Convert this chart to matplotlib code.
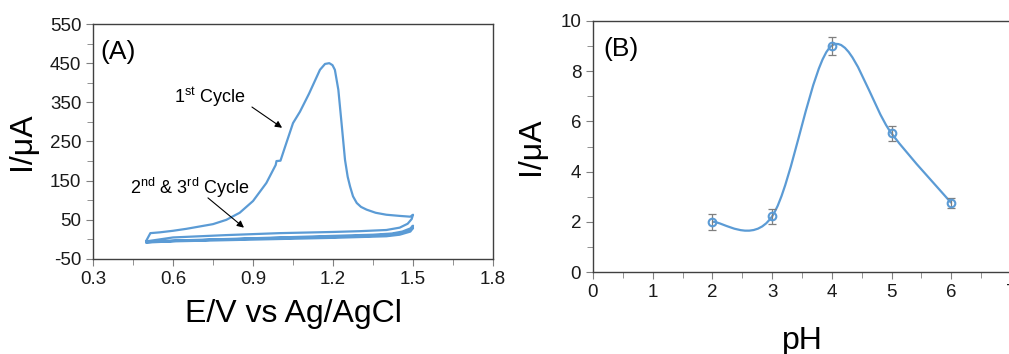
import numpy as np
import matplotlib
matplotlib.use("Agg")
import matplotlib.pyplot as plt
from matplotlib.path import Path
from matplotlib.patches import PathPatch
from matplotlib.ticker import MultipleLocator

plt.rcParams['font.family'] = ['Liberation Sans', 'DejaVu Sans']
plt.rcParams['mathtext.fontset'] = 'custom'
plt.rcParams['mathtext.rm'] = 'Liberation Sans'
plt.rcParams['axes.unicode_minus'] = False

BLUE = '#5b9bd5'

# ---- panel A: cyclic voltammograms (E in V, I in uA) ----
fwd1_E = [0.500, 0.515, 0.55, 0.60, 0.65, 0.70, 0.75, 0.80, 0.85, 0.90, 0.95, 0.985,
          0.988, 1.003, 1.02, 1.05, 1.076, 1.11, 1.151, 1.17, 1.186, 1.198, 1.207,
          1.22, 1.232, 1.245, 1.255, 1.264, 1.275, 1.289, 1.305, 1.326, 1.36, 1.40,
          1.45, 1.49, 1.50]
fwd1_I = [-3, 16, 18, 22, 27, 33, 39, 50, 68, 98, 144, 190,
          200, 201, 236, 297, 326, 372, 433, 448, 450, 445, 433,
          382, 297, 203, 160, 135, 110, 93, 83, 76, 68, 63,
          60, 58, 63]
rev1_E = [1.50, 1.495, 1.48, 1.45, 1.40, 1.30, 1.20, 1.00, 0.80, 0.60, 0.50]
rev1_I = [63, 52, 40, 30, 24, 21, 19, 16, 11, 5, -5]
fwd2_E = [0.50, 0.60, 0.80, 1.00, 1.20, 1.35, 1.42, 1.46, 1.49, 1.50]
fwd2_I = [-5, -3, 1, 5, 9, 12, 15, 20, 28, 35]
rev2_E = [1.50, 1.49, 1.46, 1.40, 1.20, 1.00, 0.80, 0.60, 0.50]
rev2_I = [35, 25, 16, 10, 6, 3, 0, -4, -7]
fwd3_E = [0.50, 0.60, 0.80, 1.00, 1.20, 1.35, 1.42, 1.46, 1.49, 1.50]
fwd3_I = [-7, -4, 0, 4, 7, 10, 13, 17, 24, 29]
rev3_E = [1.50, 1.49, 1.45, 1.40, 1.20, 1.00, 0.80, 0.60, 0.50]
rev3_I = [29, 20, 12, 8, 4, 1, -2, -5, -8]

# ---- panel B: effect of pH ----
ph = [2, 3, 4, 5, 6]
ph_current = [2.0, 2.22, 9.02, 5.52, 2.75]
ph_err = [0.33, 0.29, 0.36, 0.30, 0.20]


def style_axes(ax):
    for s in ax.spines.values():
        s.set_color('#404040')
        s.set_linewidth(1.0)
    ax.tick_params(which='both', direction='out', color='#808080', labelcolor='#1a1a1a',
                   labelsize=13.5, top=False, right=False)
    ax.tick_params(which='major', length=5)
    ax.tick_params(which='minor', length=4)


def smooth_path(xs, ys):
    # Excel-style smoothed line: cubic Bezier through every point
    pts = np.column_stack([xs, ys]).astype(float)
    n = len(pts)
    verts = [pts[0]]
    codes = [Path.MOVETO]
    for i in range(n - 1):
        p0 = pts[i - 1] if i > 0 else pts[i]
        p1 = pts[i]
        p2 = pts[i + 1]
        p3 = pts[i + 2] if i + 2 < n else pts[i + 1]
        verts += [p1 + (p2 - p0) / 6, p2 - (p3 - p1) / 6, p2]
        codes += [Path.CURVE4] * 3
    return Path(verts, codes)


fig = plt.figure(figsize=(10.09, 3.54), dpi=100)

# panel A
axA = fig.add_axes([0.0922, 0.2684, 0.3964, 0.6638])
cv_E = fwd1_E + rev1_E + fwd2_E + rev2_E + fwd3_E + rev3_E
cv_I = fwd1_I + rev1_I + fwd2_I + rev2_I + fwd3_I + rev3_I
axA.plot(cv_E, cv_I, color=BLUE, lw=1.6, solid_joinstyle='round')
axA.set_xlim(0.3, 1.8)
axA.set_ylim(-50, 550)
axA.xaxis.set_minor_locator(MultipleLocator(0.15))
axA.yaxis.set_minor_locator(MultipleLocator(50))
axA.set_yticks(np.arange(-50, 551, 100))
axA.set_xticks([0.3, 0.6, 0.9, 1.2, 1.5, 1.8])
axA.set_xticklabels(['0.3', '0.6', '0.9', '1.2', '1.5', '1.8'])
style_axes(axA)
axA.set_xlabel('E/V vs Ag/AgCl', fontsize=23, labelpad=8)
axA.set_ylabel('I/\u03bcA', fontsize=23)
axA.yaxis.set_label_coords(-0.14, 0.5)
axA.text(0.018, 0.88, '(A)', transform=axA.transAxes, fontsize=19, va='center')
axA.annotate('', xy=(1.009, 285), xytext=(0.896, 338),
             arrowprops=dict(arrowstyle='-|>', color='black', lw=0.8,
                             mutation_scale=10, shrinkA=0, shrinkB=0))
axA.text(0.739, 364, '1$^{\\mathrm{st}}$ Cycle', fontsize=13, ha='center', va='center')
axA.annotate('', xy=(0.866, 30), xytext=(0.731, 106),
             arrowprops=dict(arrowstyle='-|>', color='black', lw=0.8,
                             mutation_scale=10, shrinkA=0, shrinkB=0))
axA.text(0.664, 132, '2$^{\\mathrm{nd}}$ & 3$^{\\mathrm{rd}}$ Cycle', fontsize=13,
         ha='center', va='center')

# panel B
axB = fig.add_axes([0.5877, 0.2316, 0.4143, 0.7091])
axB.add_patch(PathPatch(smooth_path(ph, ph_current), facecolor='none',
                        edgecolor=BLUE, lw=1.6))
axB.errorbar(ph, ph_current, yerr=ph_err, fmt='none', ecolor='#7f7f7f',
             elinewidth=0.9, capsize=3, capthick=0.9)
axB.plot(ph, ph_current, 'o', ms=5.5, mfc='none', mec=BLUE, mew=1.5)
axB.set_xlim(0, 7)
axB.set_ylim(0, 10)
axB.xaxis.set_major_locator(MultipleLocator(1))
axB.xaxis.set_minor_locator(MultipleLocator(0.5))
axB.yaxis.set_major_locator(MultipleLocator(2))
axB.yaxis.set_minor_locator(MultipleLocator(1))
style_axes(axB)
axB.set_xlabel('pH', fontsize=23, labelpad=18)
axB.set_ylabel('I/\u03bcA', fontsize=23, labelpad=10)
axB.text(0.025, 0.89, '(B)', transform=axB.transAxes, fontsize=19, va='center')

fig.savefig('out.png', dpi=100)
